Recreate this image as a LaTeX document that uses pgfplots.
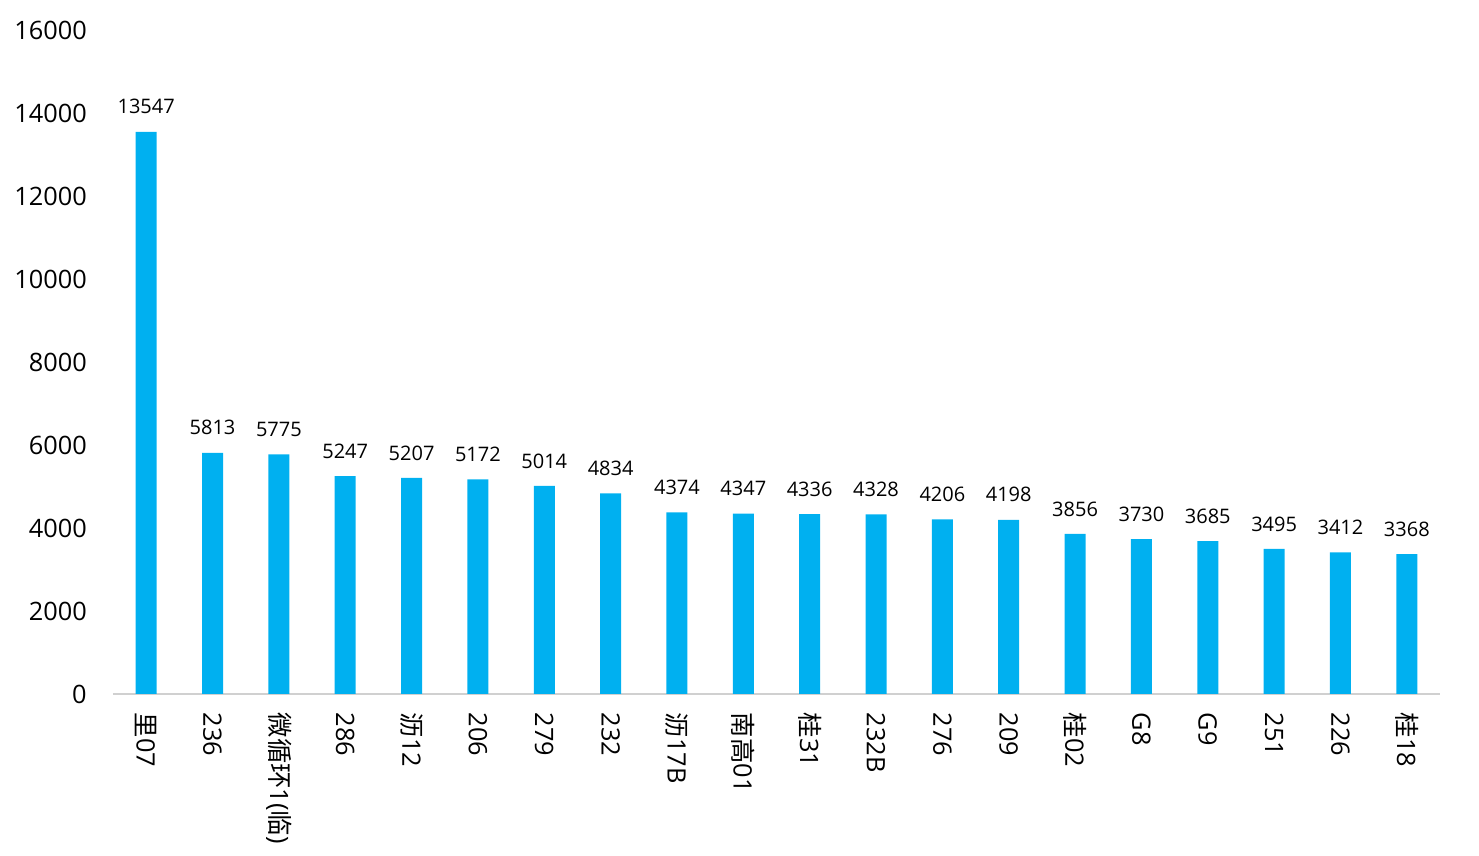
\documentclass[border=0pt]{standalone}
\usepackage{fontspec}
\setmainfont{Open Sans}
\newfontfamily\cjk{Noto Sans CJK SC}
\usepackage{pgfplots}
\pgfplotsset{compat=1.18}
\definecolor{barblue}{HTML}{00B0F0}
\definecolor{axgray}{HTML}{D0D0D0}
\begin{document}
\begin{tikzpicture}[x=1pt,y=1pt]
\useasboundingbox (-84.75,-121.5) rectangle (1024.5,520.5);
\begin{axis}[
  at={(0,0)}, anchor=south west,
  scale only axis, width=995.25pt, height=498pt,
  xmin=-0.5, xmax=19.5, ymin=0, ymax=16000,
  ytick={0,2000,...,16000},
  scaled y ticks=false,
  xtick={0,...,19},
  xticklabels={{\cjk 里}07,236,{\cjk 微循环}1({\cjk 临}),286,{\cjk 沥}12,206,279,232,{\cjk 沥}17B,{\cjk 南高}01,{\cjk 桂}31,232B,276,209,{\cjk 桂}02,G8,G9,251,226,{\cjk 桂}18},
  axis lines*=left,
  y axis line style={draw=none},
  x axis line style={axgray, line width=1.2pt},
  major tick length=0pt,
  tick style={draw=none},
  /pgf/number format/assume math mode=true,
  /pgf/number format/1000 sep={},
  yticklabel style={font=\fontsize{19}{19}\selectfont, anchor=east, inner sep=0pt, xshift=-19.5pt},
  xticklabel style={font=\fontsize{19}{19}\selectfont, inner sep=0pt, yshift=-14pt, rotate=-90, anchor=west},
  ybar, bar width=15.75pt,
  nodes near coords,
  nodes near coords style={font=\fontsize{15}{15}\selectfont, anchor=south, inner sep=0pt, yshift=13pt, /pgf/number format/assume math mode=true, /pgf/number format/1000 sep={}},
  clip=false,
]
\addplot[fill=barblue, draw=none] coordinates {
(0,13547) (1,5813) (2,5775) (3,5247) (4,5207) (5,5172) (6,5014) (7,4834) (8,4374) (9,4347)
(10,4336) (11,4328) (12,4206) (13,4198) (14,3856) (15,3730) (16,3685) (17,3495) (18,3412) (19,3368)
};
\end{axis}
\end{tikzpicture}
\end{document}
